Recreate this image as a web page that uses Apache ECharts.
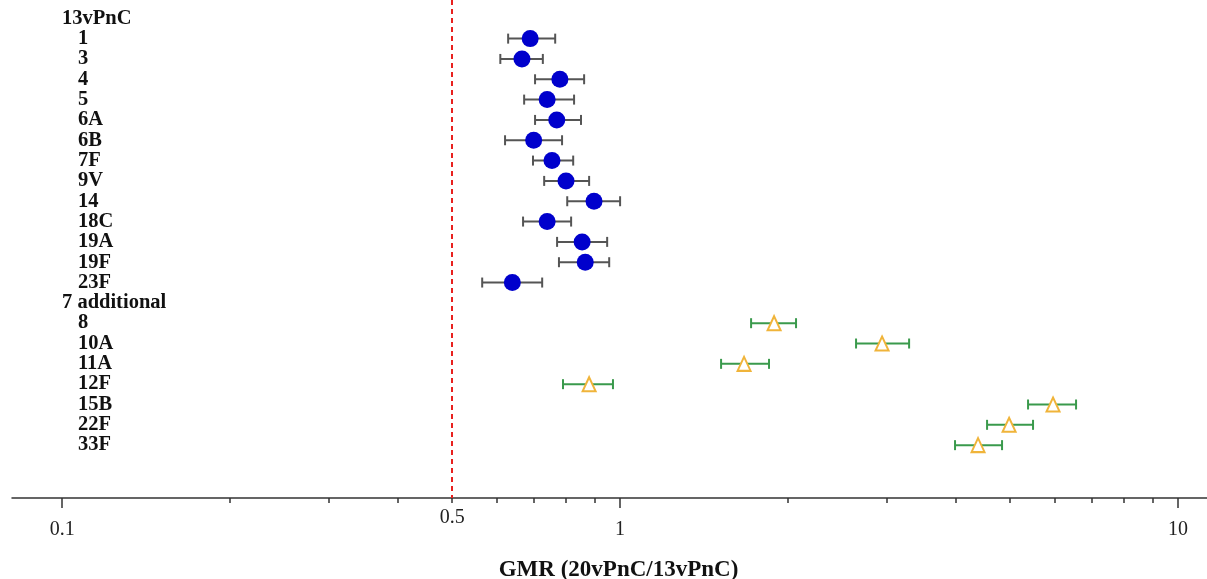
<!DOCTYPE html>
<html>
<head>
<meta charset="utf-8">
<script src="https://cdn.jsdelivr.net/npm/echarts@6/dist/echarts.min.js"></script>
<style>html,body{margin:0;padding:0;background:#fff}#chart{width:1207px;height:579px}</style>
</head>
<body>
<div id="chart"></div>
<script>
// Row labels, top to bottom
const rowLabels = ['13vPnC','1','3','4','5','6A','6B','7F','9V','14','18C','19A','19F','23F',
  '7 additional','8','10A','11A','12F','15B','22F','33F'];
const headerRows = ['13vPnC','7 additional'];

// 13vPnC serotypes: GMR with 95% CI
const pcv13Serotypes = ['1','3','4','5','6A','6B','7F','9V','14','18C','19A','19F','23F'];
const pcv13Gmr = [0.69, 0.667, 0.78, 0.74, 0.77, 0.70, 0.755, 0.80, 0.898, 0.74, 0.855, 0.866, 0.641];
const pcv13Lo  = [0.63, 0.61, 0.704, 0.673, 0.704, 0.622, 0.698, 0.731, 0.804, 0.67, 0.771, 0.777, 0.566];
const pcv13Hi  = [0.765, 0.727, 0.862, 0.827, 0.851, 0.787, 0.824, 0.88, 1.0, 0.817, 0.948, 0.956, 0.725];

// 7 additional serotypes
const addSerotypes = ['8','10A','11A','12F','15B','22F','33F'];
const addGmr = [1.888, 2.948, 1.668, 0.88, 5.97, 4.98, 4.381];
const addLo  = [1.717, 2.648, 1.517, 0.79, 5.385, 4.547, 3.984];
const addHi  = [2.067, 3.296, 1.849, 0.971, 6.565, 5.497, 4.837];

// Axis ticks
const majorTicks = [0.1, 1, 10];
const minorTicks = [0.2,0.3,0.4,0.5,0.6,0.7,0.8,0.9,2,3,4,5,6,7,8,9];
const refLabel = [0.5];
const refValue = 0.5;

const rowIndex = name => rowLabels.indexOf(name);
const pcv13Bars = pcv13Serotypes.map((s,i)=>[pcv13Lo[i], pcv13Hi[i], rowIndex(s)]);
const pcv13Pts = pcv13Serotypes.map((s,i)=>[pcv13Gmr[i], rowIndex(s)]);
const addBars = addSerotypes.map((s,i)=>[addLo[i], addHi[i], rowIndex(s)]);
const addPts = addSerotypes.map((s,i)=>[addGmr[i], rowIndex(s)]);
// label positions: row indices padded with two blank guard entries at the ends
const yLabelValues = [-0.8].concat(rowLabels.map((_,i)=>i), [23.5]);

function errorBar(color){
  return function(params, api){
    const lo = api.coord([api.value(0), api.value(2)]);
    const hi = api.coord([api.value(1), api.value(2)]);
    const h = 5;
    const st = {stroke: color, lineWidth: 2};
    return {type:'group', children:[
      {type:'line', shape:{x1:lo[0],y1:lo[1],x2:hi[0],y2:hi[1]}, style:st},
      {type:'line', shape:{x1:lo[0],y1:lo[1]-h,x2:lo[0],y2:lo[1]+h}, style:st},
      {type:'line', shape:{x1:hi[0],y1:hi[1]-h,x2:hi[0],y2:hi[1]+h}, style:st}
    ]};
  };
}

const serif = '"Liberation Serif", "Times New Roman", serif';
const chart = echarts.init(document.getElementById('chart'));
chart.setOption({
  animation: false,
  grid: {left: 12, right: 0, top: 0, bottom: 81, containLabel: false, outerBoundsMode: 'none'},
  xAxis: [{
    type: 'log', logBase: 10, min: 0.0813, max: 11.27, position: 'bottom',
    axisLine: {show: true, onZero: false, lineStyle: {color: '#333', width: 1.5}},
    axisTick: {show: true, length: 10, customValues: majorTicks, lineStyle: {color: '#333', width: 1.5}},
    axisLabel: {customValues: majorTicks, margin: 22, fontFamily: serif, fontSize: 20, color: '#222',
      showMinLabel: true, showMaxLabel: true, formatter: v => String(v)},
    splitLine: {show: false}, minorTick: {show: false},
    name: 'GMR (20vPnC/13vPnC)', nameLocation: 'middle', nameGap: 61,
    nameTextStyle: {fontFamily: serif, fontSize: 23, fontWeight: 'bold', color: '#111', padding: [0,0,0,18]}
  },{
    type: 'log', logBase: 10, min: 0.0813, max: 11.27, position: 'bottom',
    axisLine: {show: false, onZero: false},
    axisTick: {show: true, length: 5, customValues: minorTicks, lineStyle: {color: '#333', width: 1.5}},
    axisLabel: {customValues: refLabel, margin: 10, fontFamily: serif, fontSize: 20, color: '#222',
      formatter: v => String(v)},
    splitLine: {show: false}
  }],
  yAxis: {
    type: 'value', inverse: true, min: -0.9, max: 23.6,
    axisLine: {show: false, onZero: false}, axisTick: {show: false}, splitLine: {show: false},
    axisLabel: {
      inside: true, margin: 50, align: 'left', showMinLabel: false, showMaxLabel: false,
      hideOverlap: false,
      customValues: yLabelValues,
      formatter: v => {
        const name = Number.isInteger(v) ? rowLabels[v] : undefined;
        if (name === undefined) return '';
        return headerRows.includes(name) ? '{h|' + name + '}' : '{i|' + name + '}';
      },
      rich: {
        h: {fontFamily: serif, fontSize: 20.5, fontWeight: 'bold', color: '#111'},
        i: {fontFamily: serif, fontSize: 20.5, fontWeight: 'bold', color: '#111', padding: [0,0,0,16]}
      }
    }
  },
  series: [
    {type: 'custom', name: 'pcv13ci', data: pcv13Bars, renderItem: errorBar('#555'),
     encode: {x: [0,1], y: 2}, z: 2,
     markLine: {silent: true, symbol: 'none', label: {show: false},
       lineStyle: {color: '#e8211f', type: [5,4], width: 2},
       data: [{xAxis: refValue}]}},
    {type: 'custom', name: 'addci', data: addBars, renderItem: errorBar('#3a9a4c'),
     encode: {x: [0,1], y: 2}, z: 2},
    {type: 'scatter', name: '13vPnC', data: pcv13Pts, symbol: 'circle', symbolSize: 17,
     itemStyle: {color: '#0000cc', opacity: 1}, z: 3},
    {type: 'scatter', name: 'additional', data: addPts, symbol: 'triangle', symbolSize: [13,14],
     itemStyle: {color: '#fff', borderColor: '#f0b43a', borderWidth: 2, opacity: 1}, z: 3}
  ]
});
</script>
</body>
</html>
